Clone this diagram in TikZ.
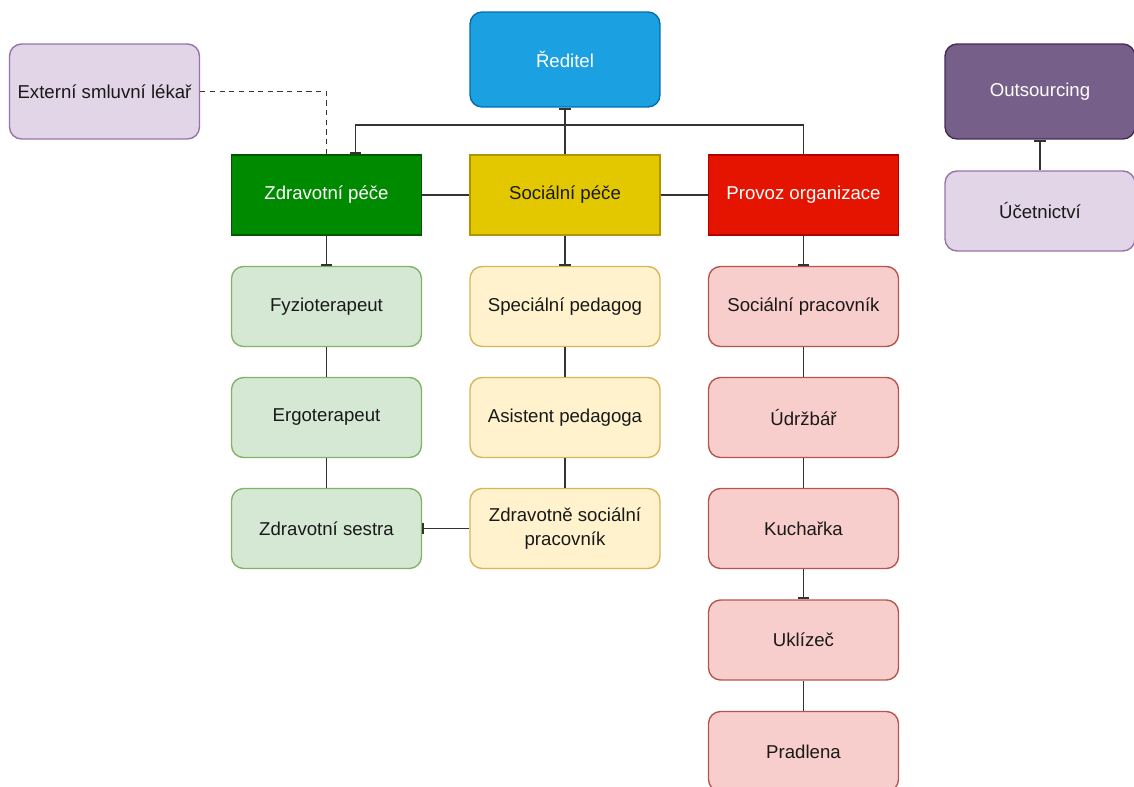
\documentclass[tikz,border=0pt]{standalone}
\usepackage{fontspec}
\setmainfont{Liberation Sans}
\usetikzlibrary{positioning}
\usetikzlibrary{arrows.meta}
\definecolor{blueFill}{HTML}{1BA1E2}
\definecolor{blueLine}{HTML}{006EAF}
\definecolor{purpleFill}{HTML}{76608A}
\definecolor{purpleLine}{HTML}{432D57}
\definecolor{lilacFill}{HTML}{E1D5E7}
\definecolor{lilacLine}{HTML}{9673A6}
\definecolor{greenFill}{HTML}{008A00}
\definecolor{greenLine}{HTML}{005700}
\definecolor{goldFill}{HTML}{E3C800}
\definecolor{goldLine}{HTML}{B09500}
\definecolor{redFill}{HTML}{E51400}
\definecolor{redLine}{HTML}{B20000}
\definecolor{mintFill}{HTML}{D5E8D4}
\definecolor{mintLine}{HTML}{82B366}
\definecolor{creamFill}{HTML}{FFF2CC}
\definecolor{creamLine}{HTML}{D6B656}
\definecolor{roseFill}{HTML}{F8CECC}
\definecolor{roseLine}{HTML}{B85450}
\tikzset{
    box/.style={draw, line width=0.8pt, minimum width=3.8cm, minimum height=1.6cm,
        align=center, inner sep=2pt, font=\fontsize{10.6}{13.5}\selectfont},
    roundBox/.style={box, rounded corners=0.24cm},
    bigBox/.style={roundBox, minimum height=1.9cm},
    headBox/.style={box, draw=#1Line, fill=#1Fill},
    staffBox/.style={roundBox, draw=#1Line, fill=#1Fill, text=black!90}
}
\tikzset{
    link/.style={draw=black!80, line width=1.1pt},
    tick/.style={link, -{Bar[width=6.5pt, line width=1.1pt]}},
    startTick/.style={link, {Bar[width=6.5pt, line width=1.1pt]}-},
    ticks/.style={link, {Bar[width=6.5pt, line width=1.1pt]}-{Bar[width=6.5pt, line width=1.1pt]}}
}

\begin{document}
\begin{tikzpicture}[x=0.02cm, y=-0.02cm]
    \useasboundingbox (0,0) rectangle (1134,787);
    % top level
    \node[bigBox, draw=blueLine, fill=blueFill, text=white] (reditel) at (565,59.5) {Ředitel};
    \node[bigBox, draw=lilacLine, fill=lilacFill, text=black!90] (lekar) at (104.5,91.5) {Externí smluvní lékař};
    \node[bigBox, draw=purpleLine, fill=purpleFill, text=white] (outsourcing) at (1040,91.5) {Outsourcing};
    \node[staffBox=lilac] (ucetnictvi) at (1040,211) {Účetnictví};
    % departments
    \node[headBox=green, text=white] (zdravotni) at (326.5,195) {Zdravotní péče};
    \node[headBox=gold, text=black!90] (socialni) at (565,195) {Sociální péče};
    \node[headBox=red, text=white] (provoz) at (803.5,195) {Provoz organizace};
    % staff
    \node[staffBox=mint] (fyzio) at (326.5,306.5) {Fyzioterapeut};
    \node[staffBox=mint] (ergo) at (326.5,417.5) {Ergoterapeut};
    \node[staffBox=mint] (sestra) at (326.5,528.5) {Zdravotní sestra};
    \node[staffBox=cream] (pedagog) at (565,306.5) {Speciální pedagog};
    \node[staffBox=cream] (asistent) at (565,417.5) {Asistent pedagoga};
    \node[staffBox=cream] (zdrsoc) at (565,528.5) {Zdravotně sociální\\pracovník};
    \node[staffBox=rose] (pracovnik) at (803.5,306.5) {Sociální pracovník};
    \node[staffBox=rose] (udrzbar) at (803.5,417.5) {Údržbář};
    \node[staffBox=rose] (kucharka) at (803.5,528.5) {Kuchařka};
    \node[staffBox=rose] (uklizec) at (803.5,640) {Uklízeč};
    \node[staffBox=rose] (pradlena) at (803.5,751.5) {Pradlena};

    % connectors
    \draw[ticks] (reditel.south) -- ++(0,17) -| ([xshift=0.58cm]zdravotni.north);
    \draw[link] (reditel.south) ++(0,17) -| (provoz.north);
    \draw[link] (reditel.south) -- (socialni.north);
    \draw[link, line width=0.9pt, dash pattern=on 3pt off 2.5pt] (lekar.east) -| (zdravotni.north);
    \draw[link] (zdravotni.east) -- (socialni.west);
    \draw[link] (socialni.east) -- (provoz.west);
    \draw[startTick] (outsourcing.south) -- (ucetnictvi.north);

    \draw[tick] (zdravotni.south) -- (fyzio.north);
    \draw[link] (fyzio.south) -- (ergo.north);
    \draw[link] (ergo.south) -- (sestra.north);
    \draw[tick] (socialni.south) -- (pedagog.north);
    \draw[link] (pedagog.south) -- (asistent.north);
    \draw[link] (asistent.south) -- (zdrsoc.north);
    \draw[tick] (zdrsoc.west) -- (sestra.east);
    \draw[tick] (provoz.south) -- (pracovnik.north);
    \draw[link] (pracovnik.south) -- (udrzbar.north);
    \draw[link] (udrzbar.south) -- (kucharka.north);
    \draw[tick] (kucharka.south) -- (uklizec.north);
    \draw[link] (uklizec.south) -- (pradlena.north);
\end{tikzpicture}
\end{document}
